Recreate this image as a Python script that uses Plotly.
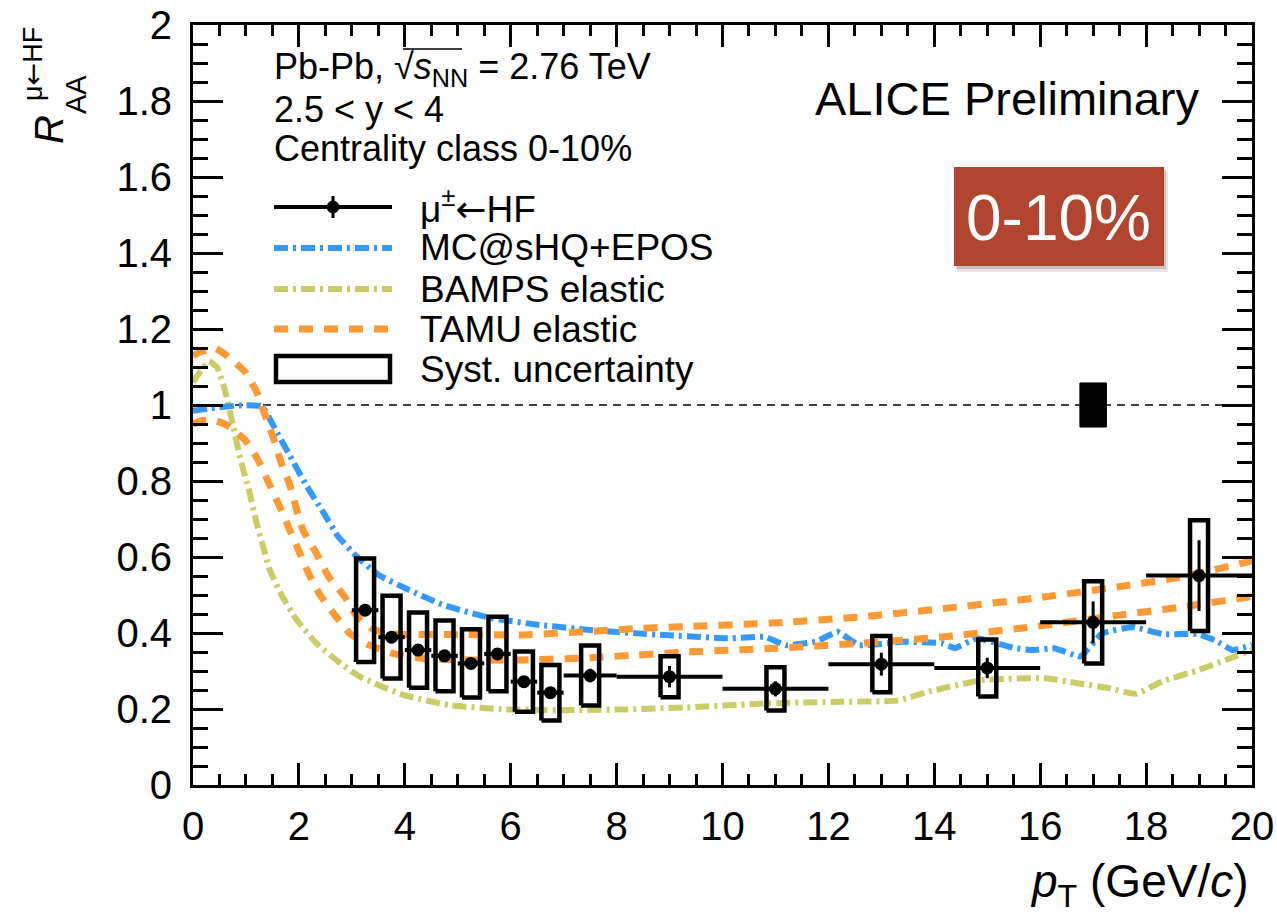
import plotly.graph_objects as go

# ---------------- data ----------------
pt = [3.25, 3.75, 4.25, 4.75, 5.25, 5.75, 6.25, 6.75, 7.5, 9, 11, 13, 15, 17, 19]
pt_halfbin = [0.25, 0.25, 0.25, 0.25, 0.25, 0.25, 0.25, 0.25, 0.5, 1, 1, 1, 1, 1, 1]
raa = [0.46, 0.389, 0.355, 0.34, 0.32, 0.345, 0.272, 0.243, 0.288, 0.285, 0.253, 0.318, 0.308, 0.428, 0.551]
stat_err = [0.01, 0.01, 0.01, 0.01, 0.01, 0.01, 0.012, 0.012, 0.018, 0.028, 0.02, 0.03, 0.027, 0.055, 0.093]
syst_err = [0.136, 0.109, 0.099, 0.093, 0.09, 0.098, 0.079, 0.073, 0.079, 0.054, 0.057, 0.074, 0.075, 0.108, 0.146]
syst_halfwidth = 0.17

norm_pt = 17.0
norm_halfwidth = 0.25
norm_err = 0.058

mc_pt = [0, 0.35, 0.89, 1.3, 1.61, 1.89, 2.15, 2.45, 2.74, 3.1, 3.5, 4.05, 4.7, 5.6, 6.55, 7.5, 8.4, 8.9,
         10.1, 10.8, 11.2, 11.76, 12.17, 12.58, 13.4, 14.14, 14.39, 14.8, 15.53, 15.86, 16.27, 16.76,
         17.17, 17.75, 18.32, 18.98, 19.3, 19.63, 20]
mc_raa = [0.985, 0.992, 0.999, 0.997, 0.922, 0.851, 0.786, 0.72, 0.654, 0.6, 0.553, 0.515, 0.475, 0.44,
          0.421, 0.408, 0.399, 0.395, 0.386, 0.39, 0.368, 0.377, 0.403, 0.368, 0.377, 0.373, 0.36, 0.386,
          0.36, 0.355, 0.36, 0.338, 0.399, 0.416, 0.397, 0.397, 0.381, 0.355, 0.368]

bamps_pt = [0, 0.15, 0.3, 0.45, 0.6, 0.75, 0.9, 1.05, 1.2, 1.3, 1.45, 1.67, 1.96, 2.33, 2.74, 3.15, 3.97,
            4.85, 5.9, 6.9, 8.2, 9.3, 10.9, 12.2, 13.3, 13.9, 14.9, 16.1, 16.7, 17.3, 17.8, 18.3, 19.0,
            19.5, 20]
bamps_raa = [1.06, 1.09, 1.115, 1.10, 1.04, 0.95, 0.855, 0.78, 0.69, 0.64, 0.566, 0.5, 0.434, 0.373,
             0.325, 0.285, 0.237, 0.21, 0.199, 0.197, 0.199, 0.204, 0.215, 0.219, 0.222, 0.246, 0.276,
             0.281, 0.268, 0.255, 0.24, 0.272, 0.303, 0.329, 0.355]

tamu_hi_pt = [0, 0.15, 0.4, 0.6, 0.98, 1.2, 1.36, 1.52, 1.67, 1.83, 1.96, 2.08, 2.33, 2.56, 2.87, 3.09,
              3.4, 3.7, 4.0, 5.0, 6.2, 7.5, 8.4, 9.3, 10.94, 12.58, 14.22, 15.86, 17.5, 18.73, 20]
tamu_hi_raa = [1.13, 1.14, 1.15, 1.134, 1.088, 1.035, 0.974, 0.912, 0.846, 0.789, 0.723, 0.67, 0.61,
               0.548, 0.495, 0.445, 0.41, 0.398, 0.396, 0.396, 0.395, 0.404, 0.412, 0.417, 0.426, 0.442,
               0.465, 0.491, 0.522, 0.549, 0.59]

tamu_lo_pt = [0, 0.16, 0.4, 0.64, 0.98, 1.23, 1.42, 1.61, 1.8, 1.99, 2.18, 2.4, 2.68, 2.96, 3.3, 3.78,
              4.35, 5.3, 6.24, 7.5, 8.4, 9.3, 10.9, 12.6, 14.2, 15.9, 17.5, 18.7, 20]
tamu_lo_raa = [0.95, 0.959, 0.96, 0.947, 0.908, 0.855, 0.798, 0.741, 0.68, 0.619, 0.557, 0.5, 0.447,
               0.399, 0.37, 0.346, 0.333, 0.329, 0.329, 0.335, 0.342, 0.35, 0.359, 0.373, 0.39, 0.417,
               0.447, 0.469, 0.496]

x_ticks = [0, 2, 4, 6, 8, 10, 12, 14, 16, 18, 20]
y_ticks = [0, 0.2, 0.4, 0.6, 0.8, 1, 1.2, 1.4, 1.6, 1.8, 2]

# ---------------- styling ----------------
FONT = "Liberation Sans, Arial, Helvetica, sans-serif"
ARROW = "<span style='font-family:DejaVu Sans'>←</span>"
BLUE = "#3399FF"
OLIVE = "#CCCC66"
ORANGE = "#FF9933"
DASHDOT = "14px,5px,3px,5px"
DASH = "14px,11px"

W, H = 1277, 913
ML, MR, MT, MB = 193, 25, 25, 128
PW = W - ML - MR
PH = H - MT - MB


def fx(x):
    return (x - ML) / PW


def fy(y):
    return (H - MB - y) / PH


fig = go.Figure()

# reference line at 1
fig.add_trace(go.Scatter(x=[x_ticks[0], x_ticks[-1]], y=[1, 1], mode="lines",
                         line=dict(color="black", width=1.5, dash="8px,6px"), hoverinfo="skip"))

# model curves
fig.add_trace(go.Scatter(x=bamps_pt, y=bamps_raa, mode="lines",
                         line=dict(color=OLIVE, width=6, dash=DASHDOT, shape="spline", smoothing=0.4)))
fig.add_trace(go.Scatter(x=mc_pt, y=mc_raa, mode="lines",
                         line=dict(color=BLUE, width=6, dash=DASHDOT, shape="spline", smoothing=0.3)))
fig.add_trace(go.Scatter(x=tamu_hi_pt, y=tamu_hi_raa, mode="lines",
                         line=dict(color=ORANGE, width=7, dash=DASH, shape="spline", smoothing=0.4)))
fig.add_trace(go.Scatter(x=tamu_lo_pt, y=tamu_lo_raa, mode="lines",
                         line=dict(color=ORANGE, width=7, dash=DASH, shape="spline", smoothing=0.4)))

# systematic boxes
bx, by = [], []
for x, y, s in zip(pt, raa, syst_err):
    bx += [x - syst_halfwidth, x + syst_halfwidth, x + syst_halfwidth, x - syst_halfwidth, x - syst_halfwidth, None]
    by += [y - s, y - s, y + s, y + s, y - s, None]
fig.add_trace(go.Scatter(x=bx, y=by, mode="lines", line=dict(color="black", width=4.5), hoverinfo="skip"))

# global normalisation box
fig.add_trace(go.Scatter(
    x=[norm_pt - norm_halfwidth, norm_pt + norm_halfwidth, norm_pt + norm_halfwidth, norm_pt - norm_halfwidth, norm_pt - norm_halfwidth],
    y=[1 - norm_err, 1 - norm_err, 1 + norm_err, 1 + norm_err, 1 - norm_err],
    mode="lines", fill="toself", fillcolor="black", line=dict(color="black", width=1), hoverinfo="skip"))

# data points
fig.add_trace(go.Scatter(
    x=pt, y=raa, mode="markers",
    marker=dict(color="black", size=13, symbol="circle"),
    error_x=dict(type="data", array=pt_halfbin, color="black", thickness=4, width=0),
    error_y=dict(type="data", array=stat_err, color="black", thickness=3, width=0)))

shapes = []
ann = []

# ---- legend (drawn by hand, ROOT style) ----
LX0, LX1, LTX = 274, 392, 418
rows = [207, 248, 289, 329, 369]
LEGF = 37
shapes.append(dict(type="line", xref="paper", yref="paper", x0=fx(LX0), x1=fx(LX1), y0=fy(rows[0]), y1=fy(rows[0]),
                   line=dict(color="black", width=4)))
shapes.append(dict(type="line", xref="paper", yref="paper", x0=fx(333), x1=fx(333), y0=fy(rows[0] - 11), y1=fy(rows[0] + 11),
                   line=dict(color="black", width=3)))
shapes.append(dict(type="circle", xref="paper", yref="paper", x0=fx(327), x1=fx(339), y0=fy(rows[0] - 6), y1=fy(rows[0] + 6),
                   fillcolor="black", line=dict(color="black", width=1)))
shapes.append(dict(type="line", xref="paper", yref="paper", x0=fx(LX0), x1=fx(LX1), y0=fy(rows[1]), y1=fy(rows[1]),
                   line=dict(color=BLUE, width=6, dash=DASHDOT)))
shapes.append(dict(type="line", xref="paper", yref="paper", x0=fx(LX0), x1=fx(LX1), y0=fy(rows[2]), y1=fy(rows[2]),
                   line=dict(color=OLIVE, width=6, dash=DASHDOT)))
shapes.append(dict(type="line", xref="paper", yref="paper", x0=fx(LX0), x1=fx(LX1), y0=fy(rows[3]), y1=fy(rows[3]),
                   line=dict(color=ORANGE, width=7, dash=DASH)))
shapes.append(dict(type="rect", xref="paper", yref="paper", x0=fx(LX0 + 2), x1=fx(LX1 - 2), y0=fy(rows[4] - 13), y1=fy(rows[4] + 13),
                   line=dict(color="black", width=4.5)))
labels = ["μ<sup>±</sup>" + ARROW + "HF", "MC@sHQ+EPOS", "BAMPS elastic", "TAMU elastic", "Syst. uncertainty"]
for yy, t in zip(rows, labels):
    ann.append(dict(text=t, xref="paper", yref="paper", x=fx(LTX), y=fy(yy), xanchor="left", yanchor="middle",
                    showarrow=False, font=dict(size=LEGF, color="black", family=FONT)))

# ---- info text ----
TXT = 36
ann.append(dict(text="Pb-Pb, √<i>s</i><sub>NN</sub> = 2.76 TeV", xref="paper", yref="paper", x=fx(272), y=fy(69),
                xanchor="left", yanchor="middle", showarrow=False, font=dict(size=TXT, color="black", family=FONT)))
shapes.append(dict(type="line", xref="paper", yref="paper", x0=fx(403), x1=fx(462), y0=fy(49), y1=fy(49),
                   line=dict(color="black", width=1.5)))
ann.append(dict(text="2.5 &lt; y &lt; 4", xref="paper", yref="paper", x=fx(272), y=fy(109), xanchor="left", yanchor="middle",
                showarrow=False, font=dict(size=TXT, color="black", family=FONT)))
ann.append(dict(text="Centrality class 0-10%", xref="paper", yref="paper", x=fx(272), y=fy(149), xanchor="left",
                yanchor="middle", showarrow=False, font=dict(size=TXT, color="black", family=FONT)))

ann.append(dict(text="ALICE Preliminary", xref="paper", yref="paper", x=fx(1201), y=fy(99), xanchor="right",
                yanchor="middle", showarrow=False, font=dict(size=47, color="black", family=FONT)))

# ---- centrality badge ----
shapes.append(dict(type="rect", xref="paper", yref="paper", x0=fx(957), x1=fx(1168), y0=fy(171), y1=fy(272),
                   fillcolor="rgba(0,0,0,0.10)", line=dict(width=0), layer="above"))
shapes.append(dict(type="rect", xref="paper", yref="paper", x0=fx(956), x1=fx(1166), y0=fy(169), y1=fy(269),
                   fillcolor="rgba(0,0,0,0.15)", line=dict(width=0), layer="above"))
shapes.append(dict(type="rect", xref="paper", yref="paper", x0=fx(954), x1=fx(1164), y0=fy(167), y1=fy(266),
                   fillcolor="#B1452F", line=dict(width=0), layer="above"))
ann.append(dict(text="0-10%", xref="paper", yref="paper", x=fx(1058), y=fy(218), xanchor="center", yanchor="middle",
                showarrow=False, font=dict(size=64, color="white", family=FONT)))

# ---- axis titles ----
ann.append(dict(text="<i>p</i><sub>T</sub> (GeV/<i>c</i>)", xref="paper", yref="paper", x=fx(1251), y=fy(884),
                xanchor="right", yanchor="middle", showarrow=False, font=dict(size=46, color="black", family=FONT)))
ann.append(dict(text="<i>R</i>", xref="paper", yref="paper", x=fx(49), y=fy(130), xanchor="center", yanchor="middle",
                textangle=-90, showarrow=False, font=dict(size=40, color="black", family=FONT)))
ann.append(dict(text="AA", xref="paper", yref="paper", x=fx(76), y=fy(95), xanchor="center", yanchor="middle",
                textangle=-90, showarrow=False, font=dict(size=29, color="black", family=FONT)))
ann.append(dict(text="μ" + ARROW + "HF", xref="paper", yref="paper", x=fx(33), y=fy(64), xanchor="center", yanchor="middle",
                textangle=-90, showarrow=False, font=dict(size=27, color="black", family=FONT)))

axis_common = dict(showline=True, linecolor="black", linewidth=3, mirror="allticks", ticks="inside",
                   tickwidth=3, tickcolor="black", showgrid=False, zeroline=False, automargin=False,
                   tickfont=dict(size=40, color="black", family=FONT))

fig.update_layout(
    width=W, height=H, margin=dict(l=ML, r=MR, t=MT, b=MB, autoexpand=False),
    paper_bgcolor="white", plot_bgcolor="white", showlegend=False,
    shapes=shapes, annotations=ann,
    xaxis=dict(range=[x_ticks[0], x_ticks[-1]], tickvals=x_ticks, ticklen=22,
               minor=dict(ticks="inside", dtick=0.5, ticklen=11, tickwidth=3, tickcolor="black"),
               ticklabelstandoff=4, **axis_common),
    yaxis=dict(range=[y_ticks[0], y_ticks[-1]], tickvals=y_ticks, ticklen=30,
               minor=dict(ticks="inside", dtick=0.05, ticklen=15, tickwidth=3, tickcolor="black"),
               ticklabelstandoff=10, **axis_common),
)

fig.write_html("out.html")
